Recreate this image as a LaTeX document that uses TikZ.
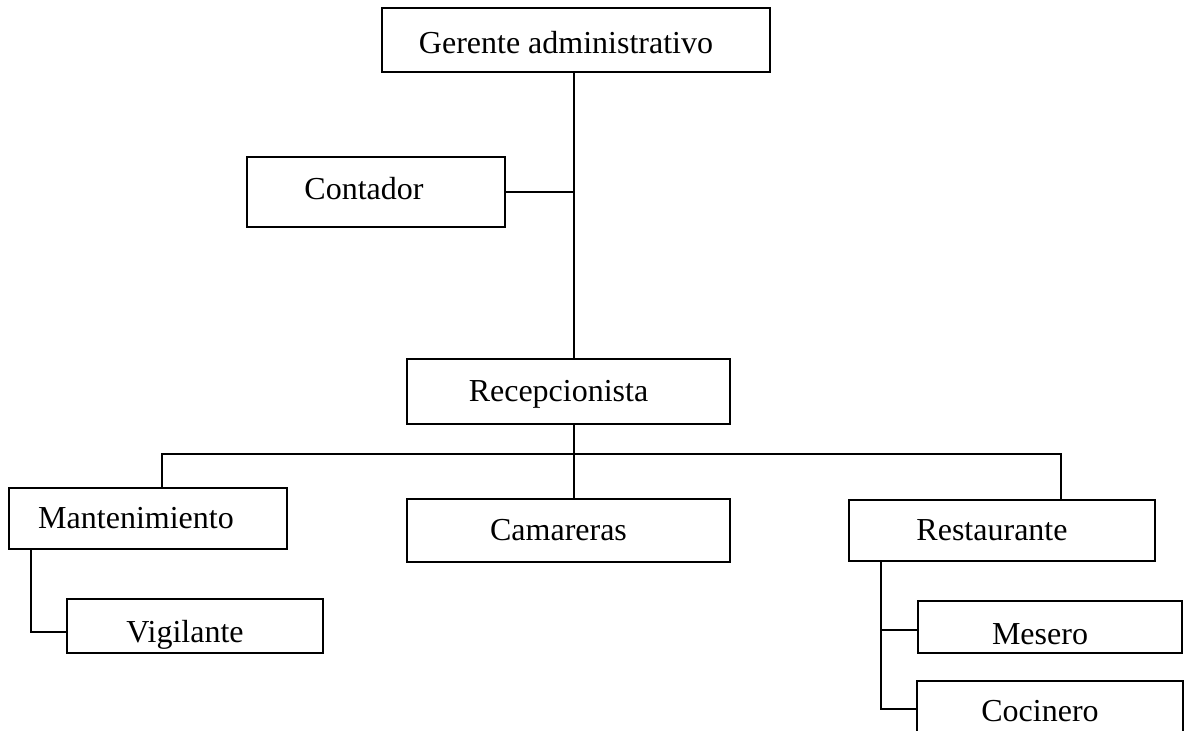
\documentclass[tikz,border=0pt]{standalone}
\usepackage{fontspec}
\setmainfont{Liberation Serif}
\usepackage{tikz}
\usetikzlibrary{positioning,calc}

\begin{document}
\begin{tikzpicture}[x=0.5pt, y=-0.5pt, line width=0.9pt,
        every node/.style={font=\fontsize{16}{19}\selectfont},
        box/.style={draw, line width=0.9pt, inner sep=0pt}]
        \useasboundingbox (0,0) rectangle (1187,731);

        \node[box, minimum width=194pt, minimum height=32pt] (ger) at (576,40) {\raisebox{-1.5pt}[\height][\depth]{Gerente administrativo}\hspace*{10pt}};
        \node[box, minimum width=129pt, minimum height=35pt] (cont) at (376,192) {\raisebox{1.5pt}[\height][\depth]{Contador}\hspace*{12pt}};
        \node[box, minimum width=161.5pt, minimum height=32.5pt] (rec) at (568.5,391.5) {\raisebox{-1.5pt}[\height][\depth]{Recepcionista}\hspace*{10pt}};
        \node[box, minimum width=139pt, minimum height=30.5pt] (mant) at (148,518.5) {Mantenimiento\hspace*{12pt}};
        \node[box, minimum width=161.5pt, minimum height=31.5pt] (cam) at (568.5,530.5) {Camareras\hspace*{10pt}};
        \node[box, minimum width=153pt, minimum height=30.5pt] (rest) at (1002,530.5) {Restaurante\hspace*{10pt}};
        \node[box, minimum width=128pt, minimum height=27pt] (vig) at (195,626) {\raisebox{-4.5pt}[\height][\depth]{Vigilante}\hspace*{10pt}};
        \node[box, minimum width=132pt, minimum height=26pt] (mes) at (1050,627) {\raisebox{-3.5pt}[\height][\depth]{Mesero}\hspace*{10pt}};
        \node[box, minimum width=133pt, minimum height=28pt] (coc) at (1050,709) {\raisebox{-1pt}[\height][\depth]{Cocinero}\hspace*{10pt}};

        \coordinate (trunk) at (574,0);
        \coordinate (busL) at (162,454);
        \coordinate (busR) at (1061,454);

        % tronco principal
        \draw (ger.south -| trunk) -- (rec.north -| trunk);
        \draw (cont.east) -- (cont.east -| trunk);
        \draw (rec.south -| trunk) -- (cam.north -| trunk);
        \draw (mant.north -| busL) -- (busL) -- (busR) -- (rest.north -| busR);

        % dependientes
        \draw ([xshift=11.5pt]mant.south west) |- ([yshift=-3pt]vig.west);
        \draw ([xshift=16.5pt]rest.south west) |- ([yshift=-1.5pt]mes.west);
        \draw ([xshift=16.5pt]rest.south west) |- (coc.west);
    \end{tikzpicture}
\end{document}
